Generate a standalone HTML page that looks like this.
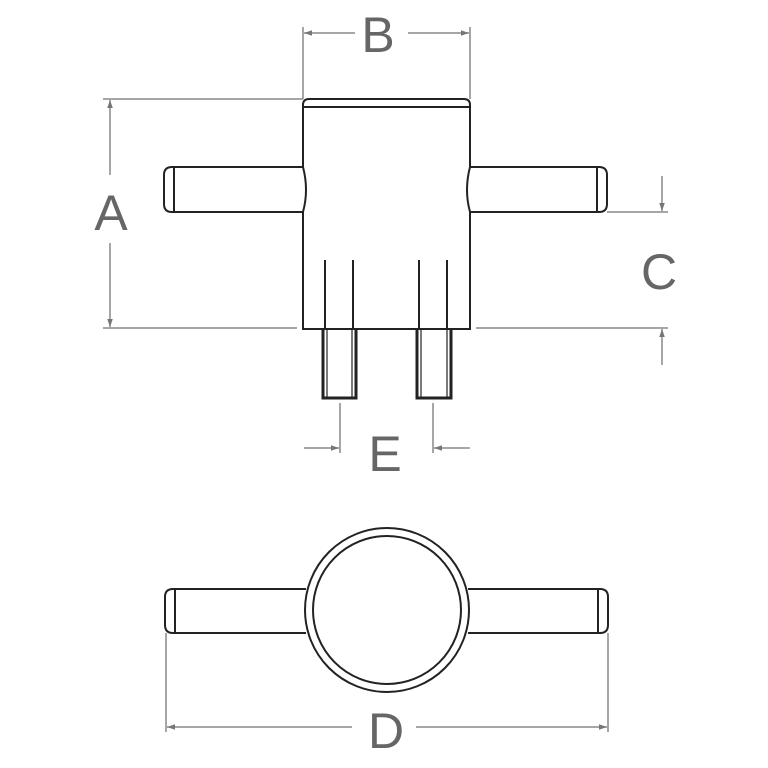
<!DOCTYPE html>
<html><head><style>
html,body{margin:0;padding:0;background:#fff}
svg{display:block}
text{font-family:"Liberation Sans",sans-serif;fill:#666;font-size:50px;text-anchor:middle}
</style></head><body>
<svg width="768" height="768" viewBox="0 0 768 768" xmlns="http://www.w3.org/2000/svg">
<defs>
<marker id="ar" viewBox="0 0 10 10" refX="10" refY="5" markerWidth="13" markerHeight="8" markerUnits="userSpaceOnUse" orient="auto"><path d="M0,1.5L10,5L0,8.5z" fill="#777"/></marker>
</defs>
<g stroke="#888" stroke-width="1.5" fill="none">
<line x1="303" y1="27" x2="303" y2="99"/>
<line x1="470" y1="27" x2="470" y2="99"/>
<line x1="355" y1="33" x2="304" y2="33" marker-end="url(#ar)"/>
<line x1="408" y1="33" x2="469" y2="33" marker-end="url(#ar)"/>
<line x1="103" y1="99" x2="303" y2="99"/>
<line x1="103" y1="328" x2="297" y2="328"/>
<line x1="110" y1="175" x2="110" y2="100" marker-end="url(#ar)"/>
<line x1="110" y1="243" x2="110" y2="327" marker-end="url(#ar)"/>
<line x1="607" y1="212" x2="668" y2="212"/>
<line x1="476" y1="328" x2="668" y2="328"/>
<line x1="662" y1="176" x2="662" y2="211" marker-end="url(#ar)"/>
<line x1="662" y1="365" x2="662" y2="329" marker-end="url(#ar)"/>
<line x1="340" y1="403" x2="340" y2="453"/>
<line x1="433" y1="403" x2="433" y2="453"/>
<line x1="304" y1="448" x2="339" y2="448" marker-end="url(#ar)"/>
<line x1="470" y1="448" x2="434" y2="448" marker-end="url(#ar)"/>
<line x1="166" y1="633" x2="166" y2="732"/>
<line x1="608" y1="633" x2="608" y2="732"/>
<line x1="352" y1="727" x2="167" y2="727" marker-end="url(#ar)"/>
<line x1="416" y1="727" x2="607" y2="727" marker-end="url(#ar)"/>
</g>
<text x="378" y="52">B</text>
<text x="111" y="230">A</text>
<text x="659" y="289">C</text>
<text x="385" y="471">E</text>
<text x="386" y="748">D</text>

<g stroke="#222" stroke-width="2" fill="none">
<path d="M303,107 L303,105 Q303,99 309,99 L464,99 Q470,99 470,105 L470,107"/>
<line x1="303" y1="107" x2="470" y2="107"/>
<path d="M303,107 L303,167 Q309,190 303,212 L303,329 L470,329 L470,212 Q464,190 470,167 L470,107"/>
<path d="M303,167 L172,167 Q164,167 164,175 L164,204 Q164,212 172,212 L303,212"/>
<line x1="174" y1="168" x2="174" y2="211"/>
<path d="M470,167 L599,167 Q607,167 607,175 L607,204 Q607,212 599,212 L470,212"/>
<line x1="597" y1="168" x2="597" y2="211"/>
<line x1="325" y1="260" x2="325" y2="329"/>
<line x1="353" y1="260" x2="353" y2="329"/>
<line x1="419" y1="260" x2="419" y2="329"/>
<line x1="447" y1="260" x2="447" y2="329"/>
</g>
<g stroke="#222" fill="none">
<path d="M323,329 L323,398 L356,398 L356,329" stroke-width="3"/>
<path d="M417,329 L417,398 L451,398 L451,329" stroke-width="3"/>
<line x1="327" y1="329" x2="327" y2="397" stroke-width="1.2"/>
<line x1="421" y1="329" x2="421" y2="397" stroke-width="1.2"/>
<line x1="352" y1="329" x2="352" y2="397" stroke-width="1.2"/>
<line x1="447" y1="329" x2="447" y2="397" stroke-width="1.2"/>
</g>
<g stroke="#222" stroke-width="2" fill="none">
<path d="M306,589 L173,589 Q165,589 165,597 L165,625 Q165,633 173,633 L306,633"/>
<line x1="175" y1="590" x2="175" y2="632"/>
<path d="M468,589 L600,589 Q608,589 608,597 L608,625 Q608,633 600,633 L468,633"/>
<line x1="598" y1="590" x2="598" y2="632"/>
<circle cx="387" cy="610" r="82" fill="#fff"/>
<circle cx="387" cy="610" r="74"/>
</g>
</svg>
</body></html>
